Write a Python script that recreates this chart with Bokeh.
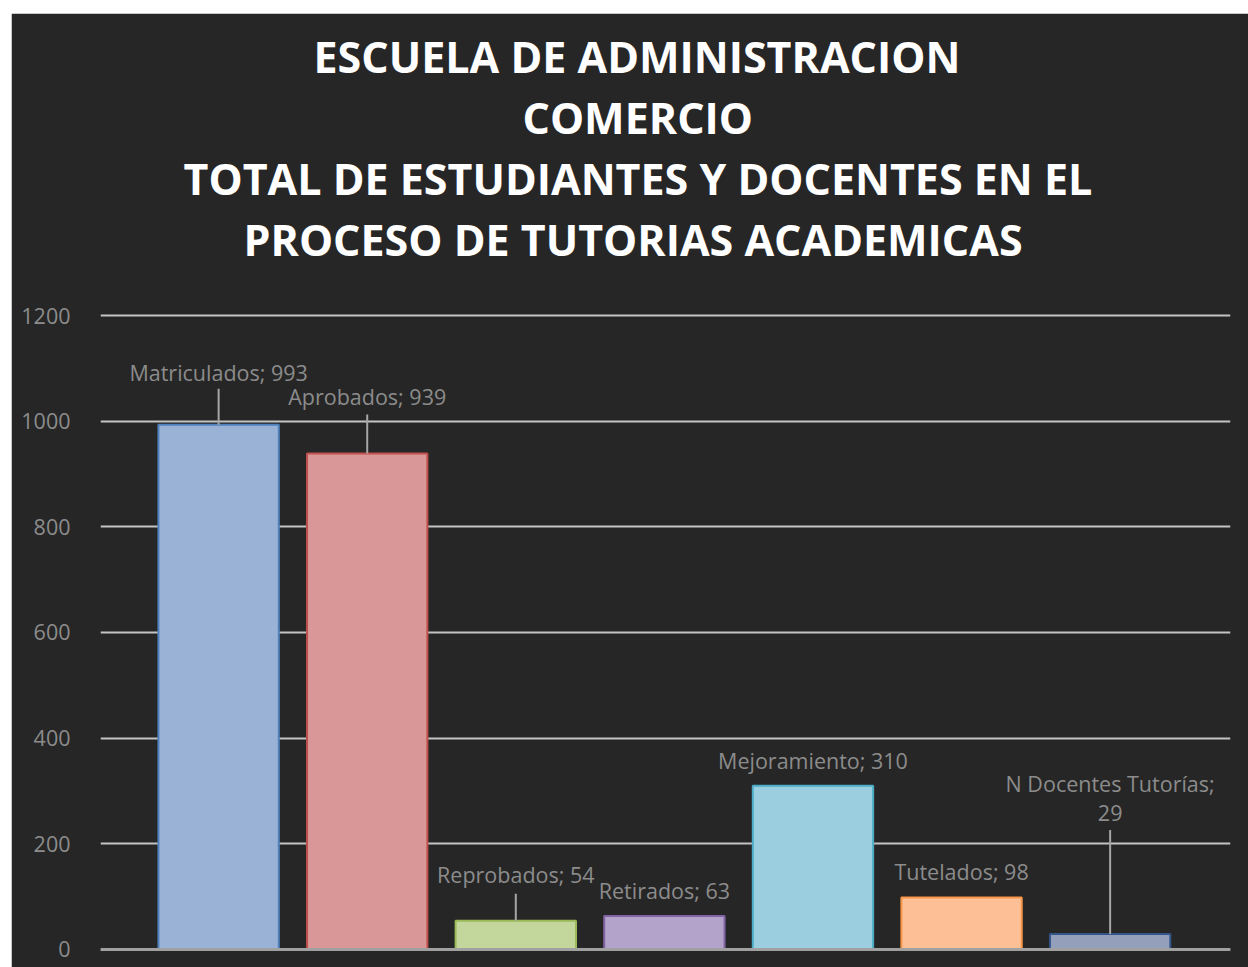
from bokeh.plotting import figure
from bokeh.models import Range1d, Span, ColumnDataSource, Title, Spacer
from bokeh.layouts import column, row
from bokeh.embed import file_html
from bokeh.resources import INLINE
from bokeh.core.properties import value

# ---- data ----
categories = ["Matriculados", "Aprobados", "Reprobados", "Retirados",
              "Mejoramiento", "Tutelados", "N Docentes Tutorías"]
values = [993, 939, 54, 63, 310, 98, 29]
label_texts = ["Matriculados; 993", "Aprobados; 939", "Reprobados; 54", "Retirados; 63",
               "Mejoramiento; 310", "Tutelados; 98", "N Docentes Tutorías;\n29"]
y_ticks = [0, 200, 400, 600, 800, 1000, 1200]
title_lines = ["ESCUELA DE ADMINISTRACION", "COMERCIO",
               "TOTAL DE ESTUDIANTES Y DOCENTES EN EL",
               "PROCESO DE TUTORIAS ACADEMICAS"]

# ---- styles / layout ----
fill_colors = ["#9BB2D7", "#D99897", "#C3D79C", "#B3A3CB", "#9BCEDF", "#FCBF96", "#939FBB"]
line_colors = ["#4F81BD", "#C0504D", "#9BBB59", "#8064A2", "#4BACC6", "#F79646", "#34558A"]
label_offset_px = [52, 57, 46, 26, 25, 26, 136]   # label centre above bar top
leader_px = [36, 39, 27, 0, 0, 0, 104]             # leader line length
title_offset_px = [213, 422, 83, 143]              # left edge of each title line from frame left

BG = "#262626"
W, H = 1237, 954
MB_L, MB_R, MB_T, MB_B = 89, 18, 255, 16
FRAME_H = H - MB_T - MB_B
Y0, Y1 = -4, 1289
upp = (Y1 - Y0) / FRAME_H

p = figure(width=W, height=H, output_backend="svg", toolbar_location=None,
           x_range=Range1d(-0.795, 6.81), y_range=Range1d(Y0, Y1),
           min_border_left=MB_L, min_border_right=MB_R, min_border_bottom=MB_B,
           min_border_top=MB_T)
p.background_fill_color = BG
p.border_fill_color = BG
p.outline_line_color = BG
p.outline_line_width = 1

# titles: added nearest-to-frame first
for txt, off in reversed(list(zip(title_lines, title_offset_px))):
    p.add_layout(Title(text=txt, align="left", offset=off, standoff=0,
                       vertical_align="bottom",
                       text_color="white", text_font="Open Sans",
                       text_font_style="bold", text_font_size="43px"), "above")

xs = list(range(len(categories)))
src = ColumnDataSource(dict(x=xs, top=values, cat=categories, fill=fill_colors,
                            line=line_colors, lab=label_texts,
                            yoff=[-o for o in label_offset_px]))

p.vbar(x="x", top="top", bottom=0, width=0.81, source=src,
       fill_color="fill", line_color="line", line_width=2)

# leader lines
lx, ly0, ly1 = [], [], []
for i, (v, l) in enumerate(zip(values, leader_px)):
    if l > 0:
        lx.append(i); ly0.append(v); ly1.append(v + l * upp)
p.segment(x0=lx, y0=ly0, x1=lx, y1=ly1, line_color="#A6A6A6", line_width=2)

p.text(x="x", y="top", text="lab", source=src, y_offset="yoff",
       text_align="center", text_baseline="middle", text_color="#8C8C8C",
       text_font=value("Open Sans"), text_font_size="21.5px", text_line_height=1.0)

# axes
p.xaxis.visible = False
p.add_layout(Span(location=0, dimension="width", line_color="#A0A0A0", line_width=3))

p.yaxis.ticker = y_ticks
p.yaxis.axis_line_color = None
p.yaxis.major_tick_line_color = None
p.yaxis.minor_tick_line_color = None
p.yaxis.major_label_standoff = 24
p.yaxis.major_label_text_color = "#8C8C8C"
p.yaxis.major_label_text_font = "Open Sans"
p.yaxis.major_label_text_font_size = "21.5px"

p.xgrid.visible = False
p.ygrid.grid_line_color = "#C4C4C4"
p.ygrid.grid_line_width = 2

layout = column(Spacer(height=13), row(Spacer(width=11), p))
open("out.html", "w").write(file_html(layout, INLINE))
